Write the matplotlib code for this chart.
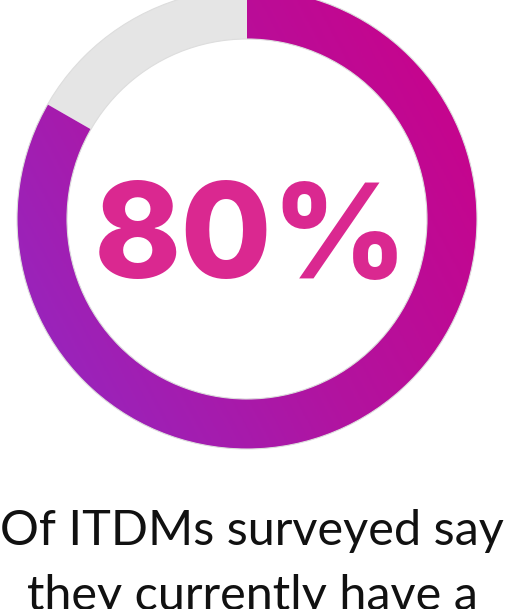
"""
Donut stat card: 80% of ITDMs, gradient ring with big centred number.
"""
import numpy as np
import matplotlib.pyplot as plt
from matplotlib.patches import Wedge
from matplotlib.colors import LinearSegmentedColormap

# data
share_label = "80%"
ring_filled = 83.3          # share of the ring drawn in colour
ring_rest = 100 - ring_filled
caption_lines = ["Of ITDMs surveyed say", "they currently have a"]

grad_colors = ["#9229c4", "#b2139f", "#cc0088"]
rest_color = "#e5e5e5"
number_color = "#da2890"

W, H = 505, 609
fig = plt.figure(figsize=(W / 100, H / 100), dpi=100)
ax = fig.add_axes([0, 0, 1, 1])
ax.set_xlim(0, W)
ax.set_ylim(0, H)
ax.axis("off")

cx, cy = 247, H - 219
r_out, ring_w = 230, 50

# grey remainder, counter-clockwise from 12 o'clock
rest_deg = ring_rest / 100 * 360
ax.add_patch(Wedge((cx, cy), r_out, 90, 90 + rest_deg, width=ring_w,
                   facecolor=rest_color, edgecolor="none"))

# coloured part, filled with a diagonal gradient clipped to the wedge
filled = Wedge((cx, cy), r_out, 90 + rest_deg, 450, width=ring_w,
               facecolor="none", edgecolor="none")
ax.add_patch(filled)
gx, gy = np.meshgrid(np.linspace(-1, 1, 300), np.linspace(-1, 1, 300))
ang = np.deg2rad(28)
t = gx * np.cos(ang) + gy * np.sin(ang)
t = (t - t.min()) / (t.max() - t.min())
cmap = LinearSegmentedColormap.from_list("ring", grad_colors)
img = ax.imshow(t, cmap=cmap, origin="lower", interpolation="bilinear",
                extent=[cx - r_out, cx + r_out, cy - r_out, cy + r_out],
                aspect="auto", zorder=2)
img.set_clip_path(filled)

# faint outline around the ring
for rr in (r_out, r_out - ring_w):
    ax.add_patch(plt.Circle((cx, cy), rr, fill=False, edgecolor="#dddddd",
                            linewidth=0.8, zorder=3))

ax.text(cx + 4, H - 278, share_label, ha="center", va="baseline",
        fontsize=95, fontweight=800, family="Inter", color=number_color,
        zorder=4)

for i, line in enumerate(caption_lines):
    ax.text(252, H - 545 - i * 65, line, ha="center", va="baseline",
            fontsize=35, family="Lato", color="#111111", clip_on=False)

fig.savefig("out.png", dpi=100, facecolor="white")
